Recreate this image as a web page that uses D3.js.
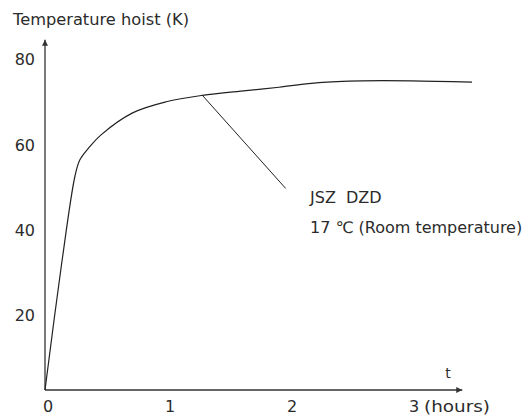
<!DOCTYPE html>
<html>
<head>
<meta charset="utf-8">
<script src="https://cdn.jsdelivr.net/npm/d3@7"></script>
<style>
  html, body { margin: 0; padding: 0; background: #fff; }
  svg { display: block; font-family: "DejaVu Sans", sans-serif; }
  text { fill: #2b2b2b; }
</style>
</head>
<body>
<svg id="chart" width="524" height="418"></svg>
<script>
// ---- data ----
const timeHours = [0, 0.136, 0.245, 0.286, 0.367, 0.457, 0.718, 0.993, 1.29, 1.647, 1.918, 2.245, 2.60, 3.00, 3.50];
const tempRise  = [0, 29.5, 50.0, 53.9, 57.0, 59.7, 64.9, 67.5, 69.0, 70.1, 70.9, 72.0, 72.4, 72.4, 72.1];
const xTicks = [0, 1, 2, 3];
const yTicks = [20, 40, 60, 80];
const yTitle = "Temperature hoist (K)";
const xTitle = "t";
const xUnit = "(hours)";
const labelLines = ["JSZ  DZD", "17 \u2103 (Room temperature)"];
const leaderFrom = [1.29, 69.0];
const leaderTo = [1.973, 47.2];

// ---- scales ----
const svg = d3.select("#chart");
const x = d3.scaleLinear().domain([0, 3]).range([45, 411]);
const y = d3.scaleLinear().domain([0, 80]).range([390, 48.4]);
const xMax = 3.42, yMax = 82;

// arrow markers
const defs = svg.append("defs");
defs.append("marker").attr("id", "arr")
  .attr("viewBox", "0 0 10 10").attr("refX", 10).attr("refY", 5)
  .attr("markerWidth", 9).attr("markerHeight", 6).attr("markerUnits", "userSpaceOnUse")
  .attr("orient", "auto")
  .append("path").attr("d", "M0,0 L10,5 L0,10 Z").attr("fill", "#333");

// axes
svg.append("line")
  .attr("x1", x(0)).attr("y1", y(0)).attr("x2", x(xMax)).attr("y2", y(0))
  .attr("stroke", "#333").attr("stroke-width", 1.3).attr("marker-end", "url(#arr)");
svg.append("line")
  .attr("x1", x(0)).attr("y1", y(0)).attr("x2", x(0)).attr("y2", y(yMax))
  .attr("stroke", "#333").attr("stroke-width", 1.3).attr("marker-end", "url(#arr)");

// tick labels
svg.append("g").selectAll("text").data(xTicks).join("text")
  .attr("x", d => x(d) + 3).attr("y", 412)
  .attr("text-anchor", "middle").attr("font-size", 16)
  .text(d => d);
svg.append("g").selectAll("text").data(yTicks).join("text")
  .attr("x", 35).attr("y", d => y(d) + 11).attr("dy", "0.36em")
  .attr("text-anchor", "end").attr("font-size", 16)
  .text(d => d);

// titles
svg.append("text").attr("x", 13).attr("y", 25).attr("font-size", 16)
  .attr("textLength", 176).attr("lengthAdjust", "spacingAndGlyphs").text(yTitle);
svg.append("text").attr("x", 448).attr("y", 378).attr("text-anchor", "middle").attr("font-size", 14).text(xTitle);
svg.append("text").attr("x", 424).attr("y", 412).attr("font-size", 16)
  .attr("textLength", 66).attr("lengthAdjust", "spacingAndGlyphs").text(xUnit);

// curve
const pts = timeHours.map((t, i) => [t, tempRise[i]]);
svg.append("path").datum(pts)
  .attr("fill", "none").attr("stroke", "#222").attr("stroke-width", 1.2)
  .attr("d", d3.line().x(d => x(d[0])).y(d => y(d[1])).curve(d3.curveCatmullRom.alpha(0.5)));

// leader line
svg.append("line")
  .attr("x1", x(leaderFrom[0])).attr("y1", y(leaderFrom[1]))
  .attr("x2", x(leaderTo[0])).attr("y2", y(leaderTo[1]))
  .attr("stroke", "#222").attr("stroke-width", 1);

// annotation
svg.append("g").selectAll("text").data(labelLines).join("text")
  .attr("x", 310).attr("y", (d, i) => 203 + i * 30)
  .attr("font-size", 16).style("white-space", "pre")
  .text(d => d);
</script>
</body>
</html>
